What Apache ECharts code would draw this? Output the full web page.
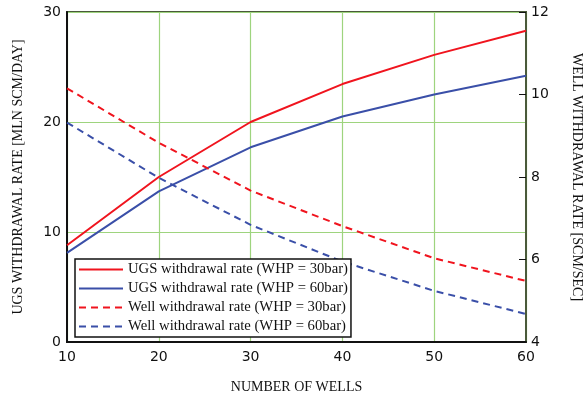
<!DOCTYPE html>
<html>
<head>
<meta charset="utf-8">
<script src="https://cdn.jsdelivr.net/npm/echarts@6/dist/echarts.min.js"></script>
<style>
  html, body { margin: 0; padding: 0; background: #fff; }
  #chart { width: 585px; height: 398px; }
</style>
</head>
<body>
<div id="chart"></div>
<script>
// Number of wells on the x axis
const wells = [10, 20, 30, 40, 50, 60];

// Total storage withdrawal rate, MLN SCM/DAY (left axis)
const ugs30 = [8.8, 15.0, 20.0, 23.45, 26.1, 28.3];
const ugs60 = [8.1, 13.7, 17.7, 20.5, 22.5, 24.2];

// Per-well withdrawal rate, SCM/SEC (right axis)
const well30 = [10.15, 8.83, 7.67, 6.81, 6.03, 5.48];
const well60 = [9.32, 7.98, 6.84, 5.95, 5.24, 4.68];

const seriesNames = [
  'UGS withdrawal rate (WHP = 30bar)',
  'UGS withdrawal rate (WHP = 60bar)',
  'Well withdrawal rate (WHP = 30bar)',
  'Well withdrawal rate (WHP = 60bar)'
];

const RED = '#f0141e';
const BLUE = '#3a4fa8';
const GRIDGREEN = '#9ed47e';
const FRAME = '#4a5a3a';

const pair = (xs, ys) => xs.map((x, i) => [x, ys[i]]);

const chart = echarts.init(document.getElementById('chart'));

function makeSeries(name, data, color, dashed, yIndex) {
  return {
    name: name,
    type: 'line',
    yAxisIndex: yIndex,
    data: data,
    symbol: 'none',
    lineStyle: { color: color, width: 2, type: dashed ? [7, 5] : 'solid' },
    itemStyle: { color: color },
    z: 3
  };
}

const nameFont = { fontFamily: 'Liberation Serif', fontSize: 14, color: '#111' };

chart.setOption({
  animation: false,
  textStyle: { fontFamily: 'DejaVu Sans' },
  grid: {
    left: 67, right: 59, top: 12, bottom: 56,
    containLabel: false,
    outerBoundsMode: 'none',
    show: true, borderColor: FRAME, borderWidth: 2, backgroundColor: '#fff'
  },
  legend: {
    orient: 'vertical',
    left: 75, top: 259,
    backgroundColor: '#fff',
    borderColor: '#111',
    borderWidth: 1.5,
    borderRadius: 0,
    padding: [3, 3, 3, 3],
    itemGap: 4,
    itemWidth: 44,
    itemHeight: 14,
    itemStyle: { opacity: 0 },
    textStyle: { fontFamily: 'Liberation Serif', fontSize: 14.7, color: '#111' },
    data: seriesNames
  },
  xAxis: {
    type: 'value',
    min: 10, max: 60, interval: 10,
    name: 'NUMBER OF WELLS',
    nameLocation: 'middle',
    nameGap: 38,
    nameTextStyle: nameFont,
    axisLine: { lineStyle: { color: '#111', width: 2 } },
    axisTick: { show: false },
    axisLabel: { fontSize: 14, color: '#111', margin: 8 },
    splitLine: { lineStyle: { color: GRIDGREEN, width: 1.2 } }
  },
  yAxis: [
    {
      type: 'value',
      min: 0, max: 30, interval: 10,
      name: 'UGS WITHDRAWAL RATE [MLN SCM/DAY]',
      nameLocation: 'middle',
      nameGap: 42,
      nameTextStyle: nameFont,
      axisLine: { show: true, lineStyle: { color: '#111', width: 2 } },
      axisTick: { show: false },
      axisLabel: { fontSize: 14, color: '#111', margin: 6 },
      splitLine: { lineStyle: { color: GRIDGREEN, width: 1.2 } }
    },
    {
      type: 'value',
      min: 4, max: 12, interval: 2,
      position: 'right',
      name: 'WELL WITHDRAWAL RATE [SCM/SEC]',
      nameLocation: 'middle',
      nameGap: 44,
      nameRotate: -90,
      nameTextStyle: nameFont,
      axisLine: { show: true, lineStyle: { color: FRAME, width: 2 } },
      axisTick: { show: true, inside: true, length: 7, lineStyle: { color: '#111', width: 1 } },
      axisLabel: { fontSize: 14, color: '#111', margin: 5 },
      splitLine: { show: false }
    }
  ],
  series: [
    makeSeries(seriesNames[0], pair(wells, ugs30), RED, false, 0),
    makeSeries(seriesNames[1], pair(wells, ugs60), BLUE, false, 0),
    makeSeries(seriesNames[2], pair(wells, well30), RED, true, 1),
    makeSeries(seriesNames[3], pair(wells, well60), BLUE, true, 1)
  ]
});
</script>
</body>
</html>
